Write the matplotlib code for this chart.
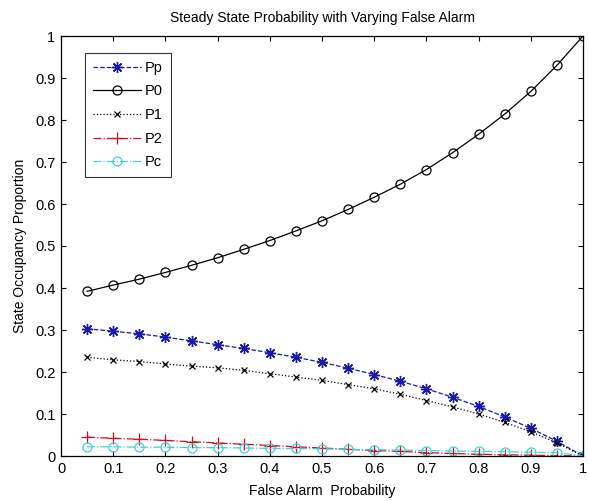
import matplotlib
matplotlib.use("Agg")
import matplotlib.pyplot as plt
import numpy as np

x = [0.05, 0.10, 0.15, 0.20, 0.25, 0.30, 0.35, 0.40, 0.45, 0.50,
     0.55, 0.60, 0.65, 0.70, 0.75, 0.80, 0.85, 0.90, 0.95, 1.00]
Pp = [0.303, 0.297, 0.291, 0.283, 0.274, 0.265, 0.256, 0.246, 0.235, 0.223,
      0.209, 0.194, 0.178, 0.160, 0.140, 0.118, 0.093, 0.066, 0.035, 0.000]
P0 = [0.392, 0.407, 0.421, 0.437, 0.454, 0.472, 0.492, 0.513, 0.536, 0.560,
      0.587, 0.616, 0.647, 0.682, 0.722, 0.766, 0.814, 0.868, 0.930, 1.000]
P1 = [0.235, 0.229, 0.225, 0.219, 0.214, 0.210, 0.204, 0.196, 0.188, 0.180,
      0.170, 0.160, 0.147, 0.132, 0.117, 0.100, 0.080, 0.058, 0.031, 0.000]
P2 = [0.045, 0.042, 0.040, 0.037, 0.034, 0.031, 0.028, 0.025, 0.022, 0.019,
      0.016, 0.013, 0.011, 0.008, 0.006, 0.004, 0.003, 0.002, 0.001, 0.000]
Pc = [0.022, 0.022, 0.021, 0.021, 0.020, 0.020, 0.019, 0.018, 0.018, 0.017,
      0.016, 0.015, 0.014, 0.013, 0.012, 0.011, 0.010, 0.009, 0.008, 0.000]
labels = ["Pp", "P0", "P1", "P2", "Pc"]
xticks = [0, 0.1, 0.2, 0.3, 0.4, 0.5, 0.6, 0.7, 0.8, 0.9, 1]
yticks = [0, 0.1, 0.2, 0.3, 0.4, 0.5, 0.6, 0.7, 0.8, 0.9, 1]

plt.rcParams['font.family'] = ['Liberation Sans', 'DejaVu Sans']

fig = plt.figure(figsize=(5.89, 5.01), dpi=100)
ax = fig.add_axes([61/589, 1-456/501, (583-61)/589, (456-36)/501])

lw = 0.9
ax.plot(x, Pp, linestyle='--', marker=(8, 2, 0), color='#1a1aa8', lw=lw, ms=8, mew=1.0, label=labels[0])
ax.plot(x, P0, linestyle='-', marker='o', color='black', mfc='none', lw=lw, ms=6.5, mew=0.9, label=labels[1])
ax.plot(x, P1, linestyle=':', marker='x', color='black', lw=lw, ms=5, mew=0.9, label=labels[2])
ax.plot(x, P2, linestyle='-.', marker='+', color='#cc1020', lw=lw, ms=9, mew=0.9, label=labels[3])
ax.plot(x, Pc, linestyle='-.', marker='o', color='#40d0d8', mfc='none', lw=lw, ms=6.5, mew=0.9, label=labels[4])

ax.set_xlim(0, 1)
ax.set_ylim(0, 1)
ax.set_xticks(xticks)
ax.set_yticks(yticks)
ax.set_xticklabels([f"{t:g}" for t in xticks])
ax.set_yticklabels([f"{t:g}" for t in yticks])
ax.tick_params(direction='in', top=True, right=True, labelsize=10.5, length=3.5, width=0.8, pad=4)
for s in ax.spines.values():
    s.set_linewidth(0.9)

ax.set_title("Steady State Probability with Varying False Alarm", fontsize=10, pad=10)
ax.set_xlabel("False Alarm  Probability", fontsize=10, labelpad=6)
ax.set_ylabel("State Occupancy Proportion", fontsize=10, labelpad=6)

leg = ax.legend(loc='upper left', bbox_to_anchor=(0.046, 0.96), fontsize=10.5,
                frameon=True, fancybox=False, edgecolor='black', handlelength=3.3,
                borderpad=0.55, labelspacing=0.66, handletextpad=0.25, borderaxespad=0)
leg.get_frame().set_linewidth(0.8)

fig.savefig("out.png", dpi=100)
